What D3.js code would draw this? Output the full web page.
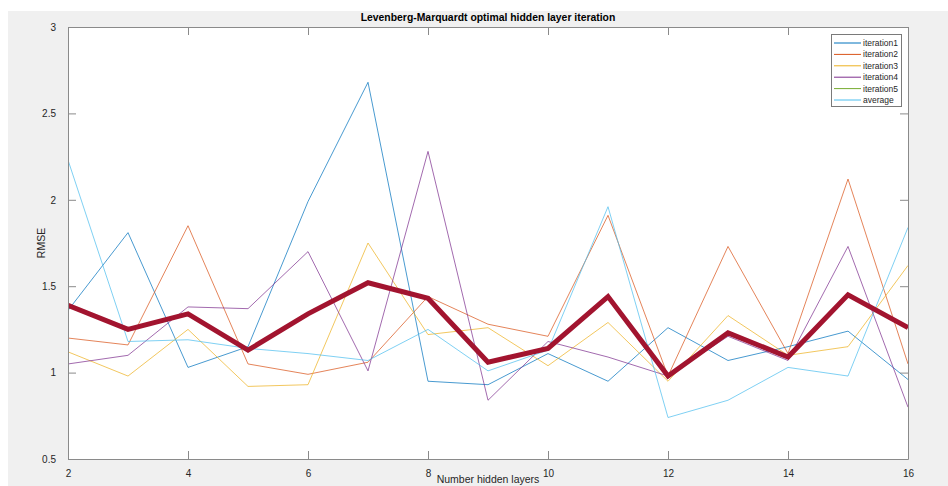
<!DOCTYPE html>
<html>
<head>
<meta charset="utf-8">
<script src="https://cdn.jsdelivr.net/npm/d3@7"></script>
<style>
  html, body { margin: 0; padding: 0; background: #ffffff; }
  svg { display: block; }
  text { font-family: "Liberation Sans", Arial, Helvetica, sans-serif; }
</style>
</head>
<body>
<svg id="chart" width="948" height="486"></svg>
<script>
// ---- data ----
const layers = [2, 3, 4, 5, 6, 7, 8, 9, 10, 11, 12, 13, 14, 15, 16];
const iteration1 = [1.36, 1.81, 1.03, 1.15, 1.99, 2.68, 0.95, 0.93, 1.11, 0.95, 1.26, 1.07, 1.15, 1.24, 0.96];
const iteration2 = [1.20, 1.16, 1.85, 1.05, 0.99, 1.06, 1.44, 1.28, 1.21, 1.91, 0.98, 1.73, 1.11, 2.12, 1.05];
const iteration3 = [1.12, 0.98, 1.25, 0.92, 0.93, 1.75, 1.22, 1.26, 1.04, 1.29, 0.95, 1.33, 1.10, 1.15, 1.62];
const iteration4 = [1.05, 1.10, 1.38, 1.37, 1.70, 1.01, 2.28, 0.84, 1.18, 1.09, 0.98, 1.21, 1.07, 1.73, 0.80];
const iteration5 = [2.23, 1.18, 1.19, 1.14, 1.11, 1.07, 1.25, 1.01, 1.13, 1.96, 0.74, 0.84, 1.03, 0.98, 1.84];
const averageRMSE = [1.39, 1.25, 1.34, 1.13, 1.34, 1.52, 1.43, 1.06, 1.14, 1.44, 0.98, 1.23, 1.09, 1.45, 1.26];
const legendLabels = ["iteration1", "iteration2", "iteration3", "iteration4", "iteration5", "average"];
const xTicks = [2, 4, 6, 8, 10, 12, 14, 16];
const yTicks = [0.5, 1, 1.5, 2, 2.5, 3];

const thinSeries = [
  { values: iteration1, color: "#0072BD" },
  { values: iteration2, color: "#D95319" },
  { values: iteration3, color: "#EDB120" },
  { values: iteration4, color: "#7E2F8E" },
  { values: iteration5, color: "#4DBEEE" }
];
const legendColors = ["#0072BD", "#D95319", "#EDB120", "#7E2F8E", "#77AC30", "#4DBEEE"];

// ---- layout ----
const svg = d3.select("#chart");
const W = 948, H = 486;
const L = 68, R = 908, T = 27, B = 459;
const axisColor = "#8a8a8a";
const textColor = "#262626";

svg.append("rect").attr("x", 8).attr("y", 11).attr("width", W - 8).attr("height", H - 11)
  .attr("fill", "#f0f0f0");

const x = d3.scaleLinear().domain([2, 16]).range([L, R]);
const y = d3.scaleLinear().domain([0.5, 3]).range([B, T]);

svg.append("rect").attr("x", L).attr("y", T).attr("width", R - L).attr("height", B - T)
  .attr("fill", "#ffffff");

svg.append("clipPath").attr("id", "clip").append("rect")
  .attr("x", L).attr("y", T).attr("width", R - L).attr("height", B - T);

const line = d3.line().x((d, i) => x(layers[i])).y(d => y(d));

const plot = svg.append("g").attr("clip-path", "url(#clip)");
thinSeries.forEach(s => {
  plot.append("path").attr("d", line(s.values)).attr("fill", "none")
    .attr("stroke", s.color).attr("stroke-width", 0.9).attr("stroke-opacity", 0.8);
});
plot.append("path").attr("d", line(averageRMSE)).attr("fill", "none")
  .attr("stroke", "#A2142F").attr("stroke-width", 5).attr("stroke-linejoin", "miter");

// axes (box with mirrored inward ticks)
const tickLen = 8;
const axBottom = d3.axisBottom(x).tickValues(xTicks).tickSizeInner(-tickLen).tickSizeOuter(0).tickPadding(tickLen + 3);
const axTop = d3.axisTop(x).tickValues(xTicks).tickSizeInner(-tickLen).tickSizeOuter(0).tickFormat("");
const axLeft = d3.axisLeft(y).tickValues(yTicks).tickSizeInner(-tickLen).tickSizeOuter(0).tickPadding(tickLen + 4).tickFormat(d3.format(""));
const axRight = d3.axisRight(y).tickValues(yTicks).tickSizeInner(-tickLen).tickSizeOuter(0).tickFormat("");

function styleAxis(g) {
  g.select(".domain").attr("stroke", axisColor).attr("stroke-width", 1);
  g.selectAll(".tick line").attr("stroke", axisColor);
  g.selectAll(".tick text").attr("fill", textColor).attr("font-size", 10)
    .attr("font-family", "'Liberation Sans', Arial, sans-serif");
}
svg.append("g").attr("transform", `translate(0,${B})`).call(axBottom).call(styleAxis);
svg.append("g").attr("transform", `translate(0,${T})`).call(axTop).call(styleAxis);
svg.append("g").attr("transform", `translate(${L},0)`).call(axLeft).call(styleAxis);
svg.append("g").attr("transform", `translate(${R},0)`).call(axRight).call(styleAxis);

// titles
svg.append("text").attr("x", (L + R) / 2).attr("y", 21).attr("text-anchor", "middle")
  .attr("font-size", 10.4).attr("font-weight", "bold").attr("fill", "#000")
  .text("Levenberg-Marquardt optimal hidden layer iteration");
svg.append("text").attr("x", (L + R) / 2).attr("y", 483).attr("text-anchor", "middle")
  .attr("font-size", 10.5).attr("fill", textColor).text("Number hidden layers");
svg.append("text").attr("transform", `translate(45,${(T + B) / 2}) rotate(-90)`)
  .attr("text-anchor", "middle").attr("font-size", 10.5).attr("fill", textColor).text("RMSE");

// legend
const lg = svg.append("g");
lg.append("rect").attr("x", 831.5).attr("y", 34.5).attr("width", 70).attr("height", 72)
  .attr("fill", "#ffffff").attr("stroke", "#7a7a7a").attr("stroke-width", 1);
legendLabels.forEach((lab, i) => {
  const yy = 43 + i * 11.4;
  lg.append("line").attr("x1", 834).attr("x2", 861).attr("y1", yy).attr("y2", yy)
    .attr("stroke", legendColors[i]).attr("stroke-width", 1);
  lg.append("text").attr("x", 863).attr("y", yy).attr("dy", "0.35em")
    .attr("font-size", 8.5).attr("fill", textColor).text(lab);
});
</script>
</body>
</html>
